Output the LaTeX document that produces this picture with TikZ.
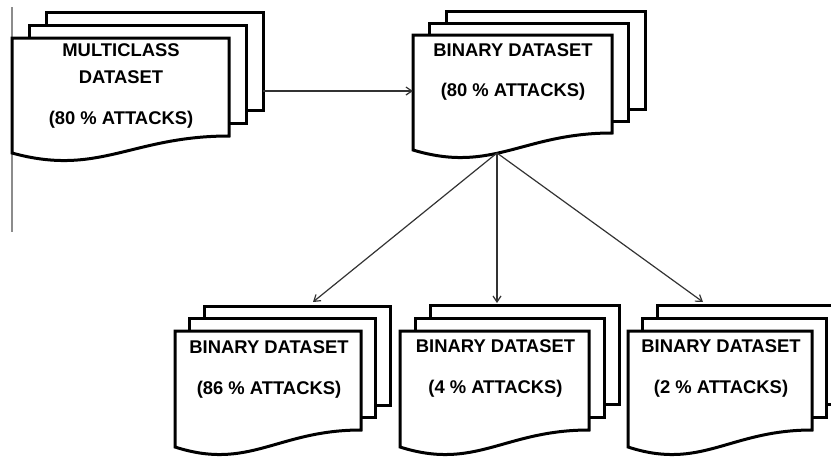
\documentclass[tikz,border=0pt]{standalone}
\usepackage{fontspec}
\setmainfont{Liberation Sans}
\usetikzlibrary{arrows.meta}

\tikzset{
  page/.style={draw=black, line width=3pt, fill=white},
  doclabel/.style={font=\bfseries\fontsize{18.4}{27}\selectfont, align=center,
    inner sep=0pt, anchor=north},
  flow/.style={draw=black!80, line width=1.2pt,
    -{Straight Barb[length=6pt,width=8pt]}},
  rule/.style={draw=black!45, line width=2pt}
}

% stack of three pages: x, y (top left of front page), width, height, offset x, offset y
\newcommand{\docstack}[6]{%
  \begin{scope}[shift={(#1,#2)}]
    \draw[page] (2*#5,-2*#6) rectangle ++(#3,#4);
    \draw[page] (#5,-#6) rectangle ++(#3,#4);
    \draw[page] (0,#4+17) -- (0,0) -- (#3,0) -- (#3,#4)
      .. controls ({0.55*#3},#4) and ({0.4*#3},#4+41) .. (0,#4+17) -- cycle;
  \end{scope}}

\begin{document}
\begin{tikzpicture}[x=1pt, y=-1pt]
  \useasboundingbox (0,0) rectangle (831,456);
  \clip (0,0) rectangle (831,456);

  \draw[rule] (11.7,7) -- (11.7,232);

  \docstack{12}{38}{217}{98}{17}{13}
  \docstack{413}{35}{199}{98}{16.5}{12}
  \docstack{175}{331}{186}{99}{14.5}{12.5}
  \docstack{400}{331}{189}{99}{15}{13}
  \docstack{628}{331}{184}{99}{14.5}{13}

  \node[doclabel] (mc) at (121,43.4) {MULTICLASS\\DATASET\\[14pt](80 \% ATTACKS)};
  \node[doclabel] (bin) at (513,43.4) {BINARY DATASET\\[13pt](80 \% ATTACKS)};
  \node[doclabel] (b86) at (269,340.4) {BINARY DATASET\\[14pt](86 \% ATTACKS)};
  \node[doclabel] (b4) at (495.5,339.4) {BINARY DATASET\\[14pt](4 \% ATTACKS)};
  \node[doclabel] (b2) at (721,339.4) {BINARY DATASET\\[14pt](2 \% ATTACKS)};

  \coordinate (mc-out) at (263,91);
  \coordinate (bin-in) at (413,91);
  \coordinate (bin-out) at (497,153);
  \coordinate (b86-in) at (313,302);
  \coordinate (b4-in) at (497,303);
  \coordinate (b2-in) at (703,302);

  \path[flow] (mc-out) -- (bin-in);
  \path[flow] (bin-out) -- (b86-in);
  \path[flow] (bin-out) -- (b4-in);
  \path[flow] (bin-out) -- (b2-in);
\end{tikzpicture}
\end{document}
